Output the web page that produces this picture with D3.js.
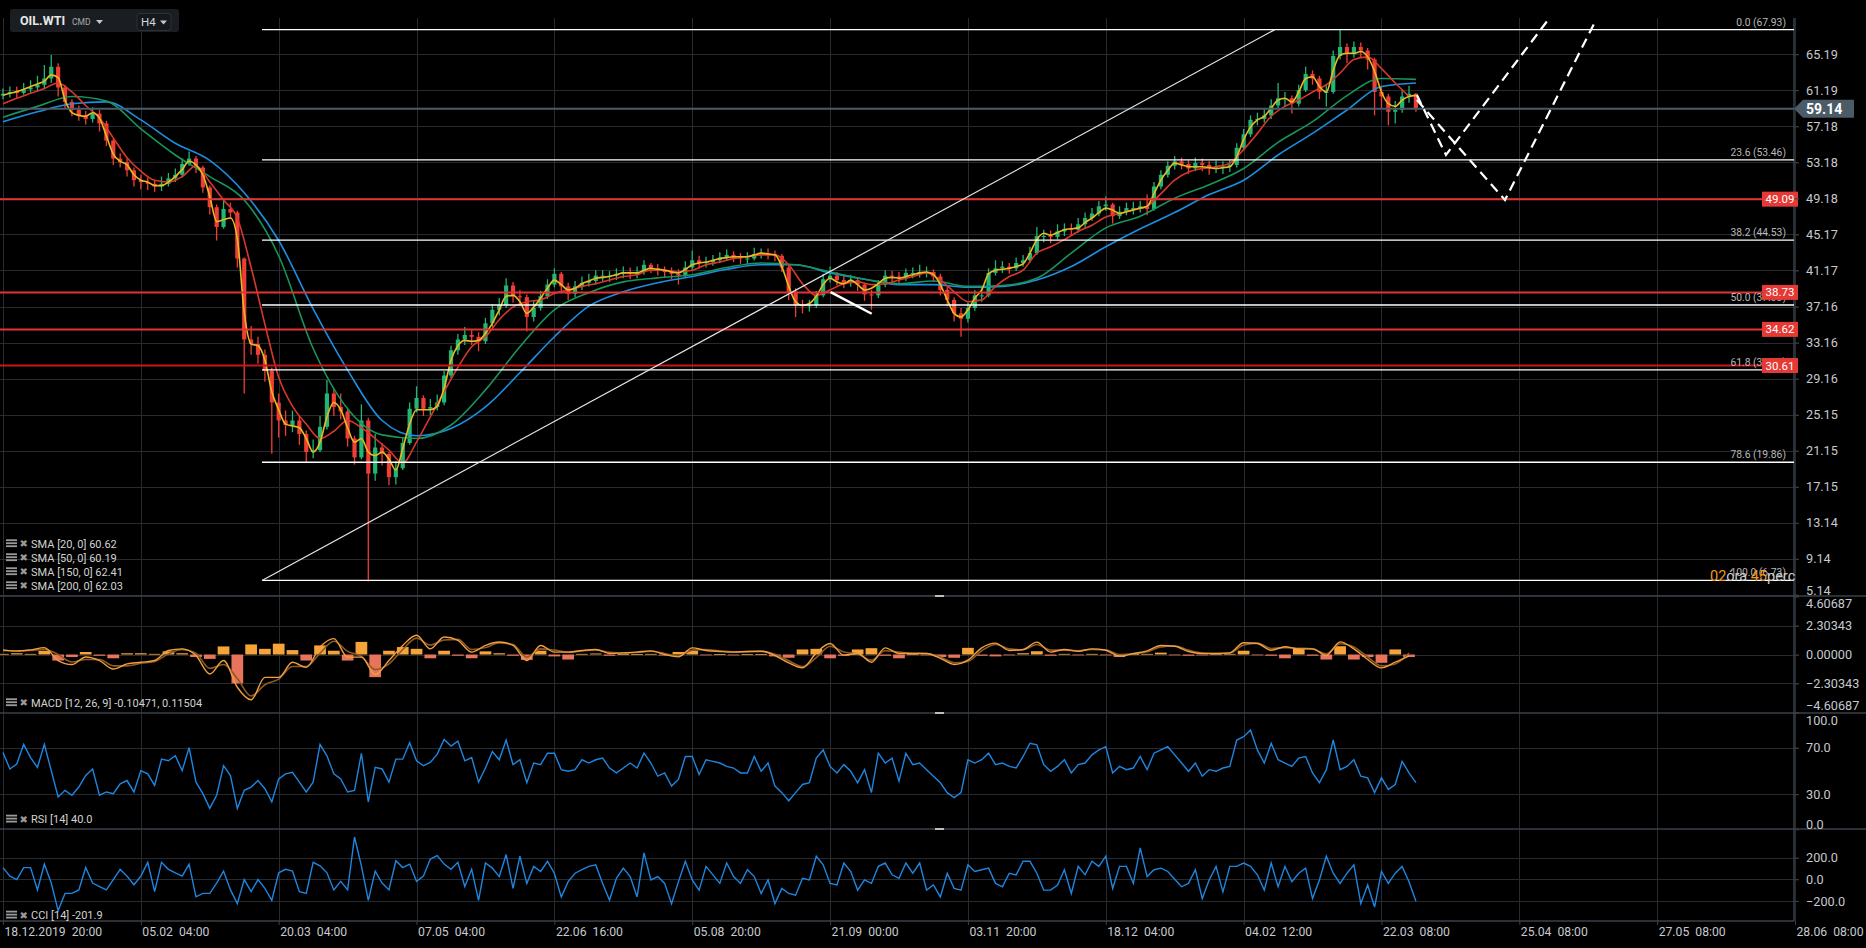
<!DOCTYPE html>
<html>
<head>
<meta charset="utf-8">
<script src="https://cdn.jsdelivr.net/npm/d3@7"></script>
<style>
  html, body { margin: 0; padding: 0; background: #000; overflow: hidden; }
  svg { display: block; font-family: Roboto, "Noto Sans", sans-serif; }
</style>
</head>
<body>
<svg id="chart" width="1866" height="948"></svg>
<script>
// [A] Datos --------------------------------------------------------------------
// Posicion en "u": 1 u = un intervalo entre etiquetas del eje X
const candleStep = 0.05;
const firstOpen = 60.6;
const closes = [
  60.8,61.0,60.9,61.3,61.5,61.8,62.5,63.8,61.5,59.9,
  59.0,58.4,58.0,58.6,57.5,55.6,53.6,53.2,52.3,51.2,
  51.0,50.8,50.5,50.8,51.4,51.8,53.0,53.6,52.6,50.4,
  48.2,46.0,48.0,47.6,42.5,33.5,33.0,31.8,30.0,26.5,
  24.5,24.0,24.5,23.0,21.0,21.2,23.8,27.5,26.0,25.5,
  22.5,20.4,24.5,18.6,21.5,20.8,18.2,19.2,22.0,25.8,
  27.0,25.8,26.0,26.5,29.5,32.3,33.5,34.0,33.8,33.3,
  35.3,36.8,37.3,39.5,38.3,38.2,36.0,37.0,38.3,39.6,
  40.8,39.4,38.6,39.4,39.8,40.0,40.6,40.6,40.6,40.8,
  41.0,40.8,41.0,41.8,41.4,41.2,41.0,40.8,40.6,41.5,
  42.3,42.0,42.1,42.3,42.6,42.9,42.6,42.5,42.5,43.0,
  43.1,43.0,42.8,41.5,38.8,37.3,37.2,37.3,38.4,40.2,
  40.6,40.1,39.8,40.1,39.6,38.5,38.4,39.6,40.6,40.5,
  40.3,40.9,40.9,41.0,41.0,40.5,39.0,37.9,36.4,35.8,
  37.0,38.4,38.4,40.9,41.4,41.6,41.4,42.0,42.3,43.1,
  45.0,45.0,44.9,45.5,45.8,45.7,46.3,47.0,47.5,48.3,
  48.5,47.2,47.7,48.1,48.1,48.3,48.0,50.5,51.8,52.8,
  53.3,53.0,52.5,53.1,52.9,52.6,52.7,52.7,52.9,54.8,
  56.3,57.9,58.0,58.4,59.5,60.3,60.3,59.7,61.2,63.0,
  62.5,61.0,61.0,65.0,66.0,65.2,66.0,65.6,64.6,61.0,
  60.5,58.8,59.0,60.5,60.8,59.14
];
const highs = [
  61.4,61.6,61.6,62.0,62.3,62.8,64.0,65.1,64.2,61.8,
  60.2,59.5,58.9,59.3,59.0,57.8,55.8,54.2,53.6,52.6,
  51.8,51.5,51.2,51.6,52.0,52.5,53.6,54.4,53.9,52.8,
  50.6,48.5,48.9,48.7,47.8,42.6,35.0,33.8,32.4,30.4,
  27.5,25.6,25.6,25.0,23.4,22.4,25.0,29.0,28.0,27.5,
  25.8,22.8,26.3,24.8,23.0,22.0,21.0,20.0,22.6,26.5,
  28.3,27.3,26.9,27.4,30.0,32.8,34.1,34.9,34.6,34.3,
  35.9,37.4,38.1,40.3,39.9,39.0,38.5,37.8,38.9,40.2,
  41.4,41.0,39.8,40.0,40.5,40.8,41.2,41.2,41.1,41.4,
  41.6,41.5,41.6,42.3,42.0,41.9,41.6,41.5,41.3,42.2,
  43.4,42.8,42.7,42.9,43.2,43.5,43.3,43.1,43.2,43.7,
  43.6,43.6,43.4,43.0,41.7,39.2,37.9,37.9,38.9,40.8,
  41.6,41.0,40.6,40.7,40.4,39.8,39.0,40.1,41.2,41.1,
  41.0,41.4,41.5,41.8,41.6,41.3,40.8,39.4,38.2,37.0,
  37.6,39.0,39.2,41.4,42.3,42.2,42.0,42.6,42.9,43.8,
  46.0,45.7,45.6,46.3,46.4,46.4,47.0,47.6,48.1,48.9,
  49.4,48.7,48.3,48.7,48.8,48.9,49.6,51.0,52.3,53.3,
  53.9,53.7,53.4,53.7,53.6,53.3,53.4,53.3,53.5,55.3,
  56.9,58.4,58.7,59.1,60.2,62.0,61.0,60.6,61.8,63.8,
  63.4,62.8,61.8,65.6,67.9,66.4,66.6,66.5,65.9,64.8,
  61.6,60.8,60.0,61.2,61.7,60.9
];
const lows = [
  60.2,60.4,60.3,60.7,60.9,61.0,61.3,62.0,60.5,59.2,
  58.3,57.8,57.4,57.6,56.6,55.0,52.9,52.6,51.6,50.5,
  50.2,50.1,49.9,50.0,50.5,51.0,51.5,52.8,52.0,49.8,
  47.4,44.5,45.8,46.9,41.5,27.5,31.8,30.8,28.8,20.8,
  22.6,22.8,23.2,21.8,19.9,20.3,21.0,23.5,25.0,24.6,
  21.6,19.6,20.2,6.6,17.8,19.5,17.3,17.4,19.0,21.8,
  25.4,25.0,25.1,25.6,26.2,29.2,31.8,32.9,32.9,32.2,
  33.0,34.9,36.2,37.0,37.6,37.2,34.4,35.5,36.7,38.0,
  39.3,38.8,37.9,38.2,39.0,39.4,39.6,40.0,39.9,40.1,
  40.3,40.2,40.3,40.7,40.9,40.6,40.4,40.2,39.6,40.3,
  41.2,41.4,41.5,41.7,42.0,42.3,42.1,41.9,41.9,42.3,
  42.5,42.4,42.2,41.0,37.9,36.0,36.4,36.6,37.0,38.2,
  39.8,39.5,39.2,39.4,38.9,37.8,36.8,38.1,39.3,39.9,
  39.7,40.0,40.3,40.4,40.4,39.9,38.4,37.2,35.5,33.8,
  35.4,36.7,37.7,38.2,40.6,40.9,40.8,41.1,41.6,42.0,
  42.9,44.3,44.2,44.6,45.0,45.0,45.4,45.9,46.7,47.2,
  47.8,46.4,46.9,47.3,47.4,47.6,47.3,47.8,50.2,51.5,
  52.4,52.4,51.9,52.2,52.2,51.8,52.0,51.9,52.1,52.6,
  54.5,56.0,57.3,57.6,58.0,59.2,59.4,58.6,59.4,61.0,
  61.8,60.2,59.4,60.8,64.6,64.2,64.8,64.9,63.5,58.4,
  59.2,57.3,57.5,58.7,59.8,58.8
];
const sma20 = [
  60.65,60.85,61.04,61.3,61.6,61.9,62.2,62.9,62.6,60.1,
  58.7,58.4,58.3,58.7,58.1,56.1,54.1,53.3,52.9,51.8,
  51.2,51.0,50.6,50.6,51.0,51.6,52.4,53.3,52.9,51.8,
  49.4,46.6,46.8,47.0,44.7,36.5,33.0,32.8,31.2,27.7,
  25.7,24.1,23.9,23.7,22.5,21.0,22.1,24.9,26.5,25.7,
  23.7,22.1,22.5,21.0,20.6,21.0,20.2,19.0,21.4,24.1,
  25.7,25.7,25.7,26.1,28.1,31.2,32.8,33.4,33.3,33.4,
  34.2,35.3,36.8,38.3,38.4,37.7,36.4,37.1,38.1,39.2,
  40.1,39.6,39.0,39.2,39.7,40.0,40.3,40.4,40.5,40.7,
  40.9,40.9,40.9,41.2,41.4,41.3,41.2,41.0,40.9,41.3,
  41.8,42.0,42.1,42.3,42.5,42.6,42.7,42.7,42.7,42.9,
  43.1,43.0,42.9,41.6,39.4,37.7,37.3,37.5,38.3,39.6,
  40.3,39.9,39.7,40.1,39.6,39.0,39.2,39.7,40.3,40.4,
  40.3,40.5,40.7,40.9,41.0,40.7,39.6,37.9,36.4,36.0,
  36.8,38.1,39.0,40.8,41.2,41.3,41.4,41.6,41.9,43.1,
  44.6,45.3,45.1,45.4,45.7,45.8,45.9,46.5,47.0,47.6,
  48.1,47.9,47.5,47.7,47.9,48.1,48.3,49.7,51.2,52.3,
  53.1,52.9,52.7,52.7,52.7,52.6,52.5,52.6,52.7,53.8,
  55.7,57.1,57.9,58.3,59.2,60.1,60.3,59.9,61.0,62.5,
  62.7,61.6,61.0,63.4,65.1,65.3,65.3,65.5,64.9,63.3,
  61.0,59.7,59.4,60.1,60.5,60.62
];
const slowStep = 0.1;
const sma50 = [
  59.7,60.3,60.85,61.4,62.0,61.0,59.5,58.1,55.9,53.7,
  52.2,51.2,51.0,51.6,52.8,51.0,49.0,47.0,41.5,35.2,
  29.3,26.1,24.1,22.5,23.3,24.5,23.7,22.5,21.2,19.8,
  22.1,24.9,27.7,30.4,32.7,33.8,35.7,37.1,37.7,37.9,
  38.6,39.0,39.4,39.7,40.1,40.5,40.7,41.2,41.2,41.0,
  41.2,41.8,42.1,42.5,42.7,42.9,42.9,41.8,39.7,38.4,
  39.0,39.7,39.9,39.6,39.7,40.1,40.5,40.9,40.1,38.8,
  37.7,37.9,39.4,40.5,41.2,43.1,43.8,44.6,45.5,46.2,
  47.1,47.5,47.9,48.3,49.7,51.2,52.1,52.5,52.7,53.1,
  54.6,56.4,58.3,59.4,60.1,61.0,61.8,63.1,64.6,64.9,
  63.6,62.0,60.5
];
const longStep = 0.25;
const sma150 = [
  58.2,59.4,60.5,60.0,56.9,54.0,51.6,49.0,42.8,32.5,
  25.8,22.9,22.5,24.0,27.9,32.7,36.8,38.7,39.9,40.35,
  40.7,41.5,42.0,41.8,41.0,40.2,39.7,40.0,39.4,39.5,
  40.3,43.1,45.9,47.2,49.2,50.7,52.5,55.4,57.7,60.6,
  62.5,62.4
];
const sma200 = [
  57.7,58.8,59.7,59.9,57.9,55.3,53.4,49.8,44.5,36.9,
  30.1,24.5,22.8,23.6,26.0,29.8,33.8,37.2,38.8,39.8,
  40.5,41.3,41.8,41.8,40.9,40.2,39.6,39.6,39.3,39.4,
  40.1,41.6,43.8,45.8,47.6,49.6,51.2,54.0,56.4,59.0,
  61.6,62.0
];
const macdLine = [
  0.37,0.27,0.37,0.55,-0.48,-0.80,-0.20,-0.48,-1.15,-0.75,
  -0.62,-0.48,0.32,0.45,-0.08,-1.55,-0.48,-2.60,-3.60,-1.82,
  -1.82,-0.62,-1.02,0.59,1.26,-0.21,-0.21,-1.60,-0.48,0.72,
  1.53,0.45,1.39,1.12,0.19,0.72,0.99,0.72,-0.48,0.72,
  0.19,0.19,0.32,0.40,0.08,0.13,0.19,0.29,0.00,-0.19,
  0.53,0.32,0.24,0.19,0.24,0.26,-0.08,-0.66,-1.05,0.13,
  0.87,-0.05,0.08,-0.61,0.53,0.08,0.08,0.08,-0.30,-0.79,
  -0.45,0.53,0.90,0.32,0.40,0.98,0.19,0.40,0.26,0.45,
  0.34,-0.13,0.08,0.29,0.71,0.66,0.24,0.08,0.08,0.13,
  0.93,0.87,0.34,0.61,0.45,0.45,-0.08,1.00,0.45,-0.40,
  -1.06,-0.61,-0.10
];
const signalLine = [
  0.30,0.30,0.32,0.42,0.00,-0.60,-0.40,-0.40,-0.90,-0.90,
  -0.70,-0.55,0.05,0.40,0.10,-1.10,-0.80,-1.90,-3.30,-2.40,
  -1.95,-0.95,-0.95,0.10,1.05,0.25,-0.15,-1.20,-0.75,0.40,
  1.30,0.75,1.15,1.20,0.40,0.55,0.92,0.80,-0.20,0.45,
  0.35,0.20,0.28,0.36,0.18,0.12,0.17,0.26,0.08,-0.12,
  0.35,0.40,0.28,0.21,0.23,0.25,0.02,-0.50,-0.95,-0.25,
  0.65,0.20,0.05,-0.45,0.30,0.20,0.10,0.08,-0.20,-0.65,
  -0.55,0.30,0.80,0.45,0.38,0.80,0.35,0.35,0.30,0.40,
  0.37,0.00,0.05,0.22,0.60,0.68,0.35,0.12,0.08,0.11,
  0.75,0.90,0.48,0.55,0.50,0.45,0.05,0.85,0.60,-0.20,
  -0.90,-0.75,0.12
];
const macdHist = [
  0.05,0.10,0.05,0.30,-0.48,-0.20,0.20,-0.10,-0.30,0.10,
  0.10,0.05,0.25,0.10,-0.20,-0.35,0.64,-2.30,0.80,0.45,
  0.86,0.35,-0.48,0.72,0.30,-0.48,1.00,-1.80,0.30,0.59,
  0.45,-0.30,0.30,-0.10,-0.30,0.25,0.10,-0.10,-0.43,0.30,
  -0.15,-0.40,0.05,0.08,-0.10,0.03,0.03,0.05,-0.08,0.20,
  0.30,-0.05,0.03,-0.03,0.02,0.03,-0.15,-0.26,0.40,0.45,
  -0.30,-0.10,0.40,0.50,-0.10,-0.30,0.02,-0.05,-0.20,-0.26,
  0.53,-0.10,-0.15,-0.05,0.10,0.26,-0.10,0.05,-0.05,0.05,
  -0.03,-0.20,0.03,0.05,0.15,-0.03,-0.10,-0.03,0.02,0.05,
  0.30,-0.05,-0.10,-0.30,0.50,-0.10,-0.40,0.66,-0.40,-0.20,
  -0.66,0.40,-0.20
];
const rsi = [
  65.8,51.7,55.9,72.8,61.5,53.1,72.8,50.3,27.7,33.4,
  29.2,36.2,46.1,51.7,29.2,32.0,30.6,39.0,41.8,32.0,
  50.3,47.5,37.6,60.1,58.7,63.0,50.3,70.0,40.4,30.6,
  17.9,29.2,54.5,46.1,17.9,33.4,36.2,41.8,34.8,23.5,
  43.2,47.5,48.9,40.4,32.0,40.4,72.8,63.0,47.5,43.2,
  32.0,33.4,65.0,23.5,53.1,51.7,40.4,60.1,60.1,74.2,
  58.7,54.5,57.3,64.4,77.0,71.4,75.6,58.7,61.5,40.4,
  52.5,66.6,59.6,76.5,55.4,59.6,39.9,56.8,55.4,65.2,
  65.2,51.1,49.7,51.1,59.6,56.8,59.6,61.0,52.5,48.3,
  52.5,56.8,52.5,65.2,56.8,45.5,48.3,37.0,42.7,62.4,
  62.4,46.9,59.6,58.2,56.8,53.9,52.5,48.3,48.3,62.4,
  49.7,56.8,37.0,31.4,24.4,31.4,38.4,39.9,61.0,68.0,
  53.9,48.3,55.4,49.7,39.9,51.1,31.4,65.2,56.8,61.0,
  41.3,65.2,55.4,56.8,51.1,45.5,39.9,31.4,27.2,31.4,
  59.6,56.8,59.6,65.2,55.4,56.8,53.9,52.5,62.4,73.7,
  72.3,55.4,49.7,53.9,59.6,48.3,55.4,56.8,63.8,68.0,
  70.8,48.3,53.9,51.1,52.5,62.4,51.1,65.2,68.0,70.8,
  63.8,56.8,49.7,56.8,45.5,51.1,49.7,52.5,53.9,76.5,
  79.3,85.0,68.0,56.8,73.7,59.6,56.8,53.9,61.0,62.4,
  48.3,39.9,51.1,76.5,51.1,53.9,59.6,45.5,44.1,31.4,
  44.1,34.2,38.4,58.2,48.3,40.0
];
const cci = [
  108,29,-3,108,108,-98,140,-35,-289,-130,
  -130,-98,108,-35,-67,-98,-3,92,29,-51,
  29,156,-114,156,92,60,29,140,-162,-130,
  -130,-35,76,-98,-225,-3,-114,-3,-83,-194,
  60,92,76,-114,-130,156,124,60,-98,-19,
  -98,390,124,-194,76,-35,-98,171,108,140,
  -19,29,187,219,140,92,156,-67,92,-194,
  150,103,25,228,-84,213,-38,119,72,166,
  56,-163,-22,56,88,119,134,-38,-194,9,
  103,25,-163,244,-6,25,-38,-225,-22,166,
  -6,-100,119,41,-38,150,25,-38,88,25,
  -131,-6,-225,-84,-131,-147,9,-6,213,134,
  -38,-53,150,72,-100,-6,-38,119,150,41,
  9,150,56,150,-100,-53,-163,56,-84,-100,
  134,72,88,103,-38,-69,56,41,166,166,
  56,-100,-100,-53,88,-131,119,41,166,119,
  213,-84,119,119,-38,290,25,88,103,72,
  0,-69,-38,88,-178,-6,119,-116,119,119,
  150,119,41,-100,150,-69,119,-22,56,103,
  -178,-6,213,56,-38,56,134,-225,-53,-256,
  72,-38,56,119,-22,-201.9
];

// Dibujos del usuario (en u y precio)
const fibStart = 1.879;
const fibLevels = [0.0, 23.6, 38.2, 50.0, 61.8, 78.6, 100.0];
const fibPrices = [67.93, 53.46, 44.53, 37.33, 30.13, 19.86, 6.73];
const redLevels = [49.09, 38.73, 34.62, 30.61];
const lastPrice = 59.14;
const trendLine = [[1.879, 6.73], [9.227, 67.93]];
const shortSeg = [[6.004, 38.76], [6.302, 36.36]];
const projA = [[10.257, 60.67], [10.468, 54.0], [11.208, 69.0]];
const projB = [[10.257, 60.11], [10.896, 49.0], [11.556, 69.0]];

// Ejes
const priceTicks = [65.19, 61.19, 57.18, 53.18, 49.18, 45.17, 41.17, 37.16, 33.16, 29.16, 25.15, 21.15, 17.15, 13.14, 9.14, 5.14];
const macdTicks = [4.60687, 2.30343, 0, -2.30343, -4.60687];
const rsiTicks = [100, 70, 30, 0];
const cciTicks = [200, 0, -200];
const xLabels = ["18.12.2019  20:00", "05.02  04:00", "20.03  04:00", "07.05  04:00", "22.06  16:00",
  "05.08  20:00", "21.09  00:00", "03.11  20:00", "18.12  04:00", "04.02  12:00", "22.03  08:00",
  "25.04  08:00", "27.05  08:00", "28.06  08:00"];
const smaLegend = ["SMA [20, 0] 60.62", "SMA [50, 0] 60.19", "SMA [150, 0] 62.41", "SMA [200, 0] 62.03"];

// [B] Configuracion ------------------------------------------------------------
const svg = d3.select("#chart");
const plotRight = 1794;
const gridColor = "#262b31";
const sepColor = "#3a4048";
const up = "#22b573", down = "#ef3e36";

const x = d3.scaleLinear().domain([0, 13]).range([3, 1795]);
const yPrice = d3.scaleLinear().domain([5.0, 69.22]).range([596, 18]);
const yMacd = d3.scaleLinear().domain([-4.60687, 4.60687]).range([712.5, 596.5]);
const yRsi = d3.scaleLinear().domain([0, 100]).range([829.3, 712.6]);
const yCci = d3.scaleLinear().domain([-385, 464]).range([921, 829]);
const px = v => Math.round(v) + 0.5;

svg.append("rect").attr("width", 1866).attr("height", 948).attr("fill", "#000");

const defs = svg.append("defs");
defs.append("clipPath").attr("id", "clipPrice").append("rect")
  .attr("x", 0).attr("y", 14).attr("width", plotRight).attr("height", 582);
defs.append("clipPath").attr("id", "clipLow").append("rect")
  .attr("x", 0).attr("y", 597).attr("width", plotRight).attr("height", 324);

// [C] Cuadricula ---------------------------------------------------------------
const grid = svg.append("g").attr("stroke", gridColor).attr("stroke-width", 1);
grid.selectAll("line.v").data(d3.range(14)).join("line")
  .attr("x1", d => px(x(d))).attr("x2", d => px(x(d))).attr("y1", 18).attr("y2", 921);
const hLines = [
  ...priceTicks.map(v => yPrice(v)),
  ...[2.30343, 0, -2.30343].map(v => yMacd(v)),
  ...[70, 30].map(v => yRsi(v)),
  ...[200, 0, -200].map(v => yCci(v))
];
grid.selectAll("line.h").data(hLines).join("line")
  .attr("x1", 0).attr("x2", plotRight + 5).attr("y1", d => px(d)).attr("y2", d => px(d));

// separadores de paneles
const seps = svg.append("g").attr("stroke", sepColor).attr("stroke-width", 1.5);
[596, 713, 829].forEach(y => seps.append("line").attr("x1", 0).attr("x2", 1866).attr("y1", y).attr("y2", y));
seps.append("line").attr("x1", 0).attr("x2", plotRight).attr("y1", 921).attr("y2", 921);
seps.append("line").attr("x1", plotRight).attr("x2", plotRight).attr("y1", 18).attr("y2", 921);

// [D] Panel de precio ------------------------------------------------------------
const price = svg.append("g").attr("clip-path", "url(#clipPrice)");

const candles = closes.map((c, i) => ({
  u: i * candleStep,
  open: i === 0 ? firstOpen : closes[i - 1],
  close: c, high: highs[i], low: lows[i]
}));

price.append("g").selectAll("line").data(candles).join("line")
  .attr("x1", d => x(d.u)).attr("x2", d => x(d.u))
  .attr("y1", d => yPrice(d.high)).attr("y2", d => yPrice(d.low))
  .attr("stroke", d => d.close >= d.open ? up : down).attr("stroke-width", 1.3);
price.append("g").selectAll("rect").data(candles).join("rect")
  .attr("x", d => x(d.u) - 2.1).attr("width", 4.2)
  .attr("y", d => yPrice(Math.max(d.open, d.close)))
  .attr("height", d => Math.max(1, Math.abs(yPrice(d.open) - yPrice(d.close))))
  .attr("fill", d => d.close >= d.open ? up : down);

const priceLine = d3.line().x(d => x(d[0])).y(d => yPrice(d[1])).curve(d3.curveMonotoneX);
const smaSeries = [
  { values: sma200, step: longStep, color: "#1d8fe2" },
  { values: sma150, step: longStep, color: "#17955a" },
  { values: sma50, step: slowStep, color: "#d8382b" },
  { values: sma20, step: candleStep, color: "#e8b923" }
];
smaSeries.forEach(s => {
  price.append("path")
    .datum(s.values.map((v, i) => [i * s.step, v]))
    .attr("d", priceLine).attr("fill", "none")
    .attr("stroke", s.color).attr("stroke-width", 1.6);
});

// niveles rojos
price.append("g").selectAll("line").data(redLevels).join("line")
  .attr("x1", 0).attr("x2", plotRight)
  .attr("y1", d => yPrice(d)).attr("y2", d => yPrice(d))
  .attr("stroke", (d, i) => i === 3 ? "#c81818" : "#e23434").attr("stroke-width", 2);

// ultimo precio
price.append("line").attr("x1", 0).attr("x2", plotRight)
  .attr("y1", yPrice(lastPrice)).attr("y2", yPrice(lastPrice))
  .attr("stroke", "#4b5b67").attr("stroke-width", 2);

// fibonacci
price.append("g").selectAll("line").data(fibPrices).join("line")
  .attr("x1", x(fibStart)).attr("x2", plotRight)
  .attr("y1", d => yPrice(d)).attr("y2", d => yPrice(d))
  .attr("stroke", "#ffffff").attr("stroke-width", 1.3);

const drawLine = d3.line().x(d => x(d[0])).y(d => yPrice(d[1]));
price.append("path").datum(trendLine).attr("d", drawLine)
  .attr("stroke", "#e6e6e6").attr("stroke-width", 1.2).attr("fill", "none");
price.append("path").datum(shortSeg).attr("d", drawLine)
  .attr("stroke", "#ffffff").attr("stroke-width", 2.5).attr("fill", "none");
[projA, projB].forEach(p => {
  price.append("path").datum(p).attr("d", drawLine)
    .attr("stroke", "#ffffff").attr("stroke-width", 2.2)
    .attr("stroke-dasharray", "10,6").attr("fill", "none");
});

// etiquetas fibonacci
svg.append("g").selectAll("text").data(fibPrices).join("text")
  .attr("x", 1786).attr("y", d => yPrice(d) - 4)
  .attr("text-anchor", "end").attr("font-size", 10.3).attr("fill", "#b8b8b8")
  .text((d, i) => `${fibLevels[i].toFixed(1)} (${d.toFixed(2)})`);

// texto de tiempo restante
const timer = svg.append("text").attr("x", 1710).attr("y", 581).attr("font-size", 14.5);
timer.append("tspan").attr("fill", "#f39a1e").text("02");
timer.append("tspan").attr("fill", "#cfcfcf").text("óra ");
timer.append("tspan").attr("fill", "#f39a1e").text("45");
timer.append("tspan").attr("fill", "#cfcfcf").text("perc");

// cajas de niveles rojos
const redTags = svg.append("g").selectAll("g").data(redLevels).join("g")
  .attr("transform", d => `translate(1762,${yPrice(d)})`);
redTags.append("rect").attr("x", 0).attr("y", -7.5).attr("width", 36).attr("height", 15)
  .attr("fill", "#e53935");
redTags.append("text").attr("x", 18).attr("y", 4).attr("text-anchor", "middle")
  .attr("font-size", 11.5).attr("fill", "#fff").text(d => d.toFixed(2));

// [E] MACD -------------------------------------------------------------------------
const low = svg.append("g").attr("clip-path", "url(#clipLow)");
const barW = (x(slowStep) - x(0)) * 0.85;
low.append("g").selectAll("rect").data(macdHist).join("rect")
  .attr("x", (d, i) => x(i * slowStep) - barW / 2).attr("width", barW)
  .attr("y", d => yMacd(Math.max(0, d)))
  .attr("height", d => Math.max(0.8, Math.abs(yMacd(d) - yMacd(0))))
  .attr("fill", d => d >= 0 ? "#f6a43a" : "#e8745c");
const macdGen = d3.line().x((d, i) => x(i * slowStep)).y(d => yMacd(d)).curve(d3.curveMonotoneX);
low.append("path").datum(signalLine).attr("d", macdGen).attr("fill", "none")
  .attr("stroke", "#8e5a24").attr("stroke-width", 1.6);
low.append("path").datum(macdLine).attr("d", macdGen).attr("fill", "none")
  .attr("stroke", "#f0a040").attr("stroke-width", 1.4);

// [F] RSI y CCI ----------------------------------------------------------------------
const rsiGen = d3.line().x((d, i) => x(i * candleStep)).y(d => yRsi(d));
low.append("path").datum(rsi).attr("d", rsiGen).attr("fill", "none")
  .attr("stroke", "#1e86e0").attr("stroke-width", 1.4);
const cciGen = d3.line().x((d, i) => x(i * candleStep)).y(d => yCci(d));
low.append("path").datum(cci).attr("d", cciGen).attr("fill", "none")
  .attr("stroke", "#1e86e0").attr("stroke-width", 1.4);

// [G] Ejes -------------------------------------------------------------------------
function styleAxis(g) {
  g.select(".domain").remove();
  g.selectAll(".tick line").attr("stroke", sepColor);
  g.selectAll("text").attr("fill", "#c6c9ce").attr("font-size", 12.7)
    .attr("font-family", "Roboto, sans-serif");
}
const axisAt = (scale, ticks, fmt) => svg.append("g")
  .attr("transform", `translate(${plotRight},0)`)
  .call(d3.axisRight(scale).tickValues(ticks).tickSize(5).tickPadding(7).tickFormat(fmt))
  .call(styleAxis);

axisAt(yPrice, priceTicks, d3.format(".2f"))
  .selectAll(".tick text").filter(d => d === 5.14).attr("dy", "-0.05em");
const macdAxis = axisAt(yMacd, macdTicks, d3.format(".5f"));
macdAxis.selectAll(".tick text").filter(d => d === 4.60687).attr("dy", "0.85em");
macdAxis.selectAll(".tick text").filter(d => d === -4.60687).attr("dy", "-0.2em");
const rsiAxis = axisAt(yRsi, rsiTicks, d3.format(".1f"));
rsiAxis.selectAll(".tick text").filter(d => d === 100).attr("dy", "0.95em");
rsiAxis.selectAll(".tick text").filter(d => d === 0).attr("dy", "-0.1em");
axisAt(yCci, cciTicks, d3.format(".1f"));

svg.append("g").attr("transform", "translate(0,921)")
  .call(d3.axisBottom(x).tickValues(d3.range(14)).tickSize(4).tickPadding(2).tickFormat(i => xLabels[i]))
  .call(styleAxis)
  .selectAll(".tick text").attr("text-anchor", "start").attr("x", 1)
  .style("white-space", "pre").attr("font-size", 12.2);

// ultimo precio: etiqueta
const yl = yPrice(lastPrice);
svg.append("path")
  .attr("d", `M${plotRight},${yl} L${plotRight + 9},${yl - 9} L1854,${yl - 9} L1854,${yl + 9} L${plotRight + 9},${yl + 9} Z`)
  .attr("fill", "#4b5b67");
svg.append("text").attr("x", 1806).attr("y", yl + 5).attr("font-size", 14)
  .attr("font-weight", "bold").attr("fill", "#fff").text(lastPrice.toFixed(2));

// tiradores de panel
svg.append("g").selectAll("rect").data([596, 713, 829]).join("rect")
  .attr("x", 935).attr("y", d => d - 1).attr("width", 9).attr("height", 2).attr("fill", "#bdbdbd");

// [H] Leyendas ------------------------------------------------------------------------
function legendRow(y, label) {
  const g = svg.append("g").attr("transform", `translate(0,${y})`);
  [-4, -1, 2].forEach(dy => g.append("rect").attr("x", 6).attr("y", dy).attr("width", 11)
    .attr("height", 1.8).attr("fill", "#9a9a9a"));
  g.append("text").attr("x", 19.5).attr("y", 4).attr("font-size", 10)
    .attr("font-family", "DejaVu Sans").attr("fill", "#9a9a9a").text("✖");
  g.append("text").attr("x", 31).attr("y", 4.5).attr("font-size", 11)
    .attr("fill", "#d2d2d2").style("white-space", "pre").text(label);
}
smaLegend.forEach((t, i) => legendRow(543.3 + i * 14, t));
legendRow(702.3, "MACD [12, 26, 9] -0.10471, 0.11504");
legendRow(818.7, "RSI [14] 40.0");
legendRow(914.7, "CCI [14] -201.9");

// barra superior
const bar = svg.append("g");
bar.append("rect").attr("x", 10).attr("y", 9).attr("width", 169).attr("height", 23).attr("rx", 3)
  .attr("fill", "#1a1e23");
bar.append("text").attr("x", 20).attr("y", 25).attr("font-size", 12.5).attr("font-weight", "bold")
  .attr("fill", "#e8e8e8").text("OIL.WTI");
bar.append("text").attr("x", 72).attr("y", 25).attr("font-size", 8.5).attr("fill", "#a9a9a9").text("CMD");
bar.append("path").attr("d", "M96,20 L103,20 L99.5,24 Z").attr("fill", "#c8c8c8");
bar.append("rect").attr("x", 137).attr("y", 13.5).attr("width", 34).attr("height", 17).attr("rx", 3)
  .attr("fill", "#15191d").attr("stroke", "#2b3138");
bar.append("text").attr("x", 141).attr("y", 26).attr("font-size", 11.5).attr("fill", "#d6d6d6").text("H4");
bar.append("path").attr("d", "M160,20.5 L167,20.5 L163.5,24.5 Z").attr("fill", "#c8c8c8");
</script>
</body>
</html>
